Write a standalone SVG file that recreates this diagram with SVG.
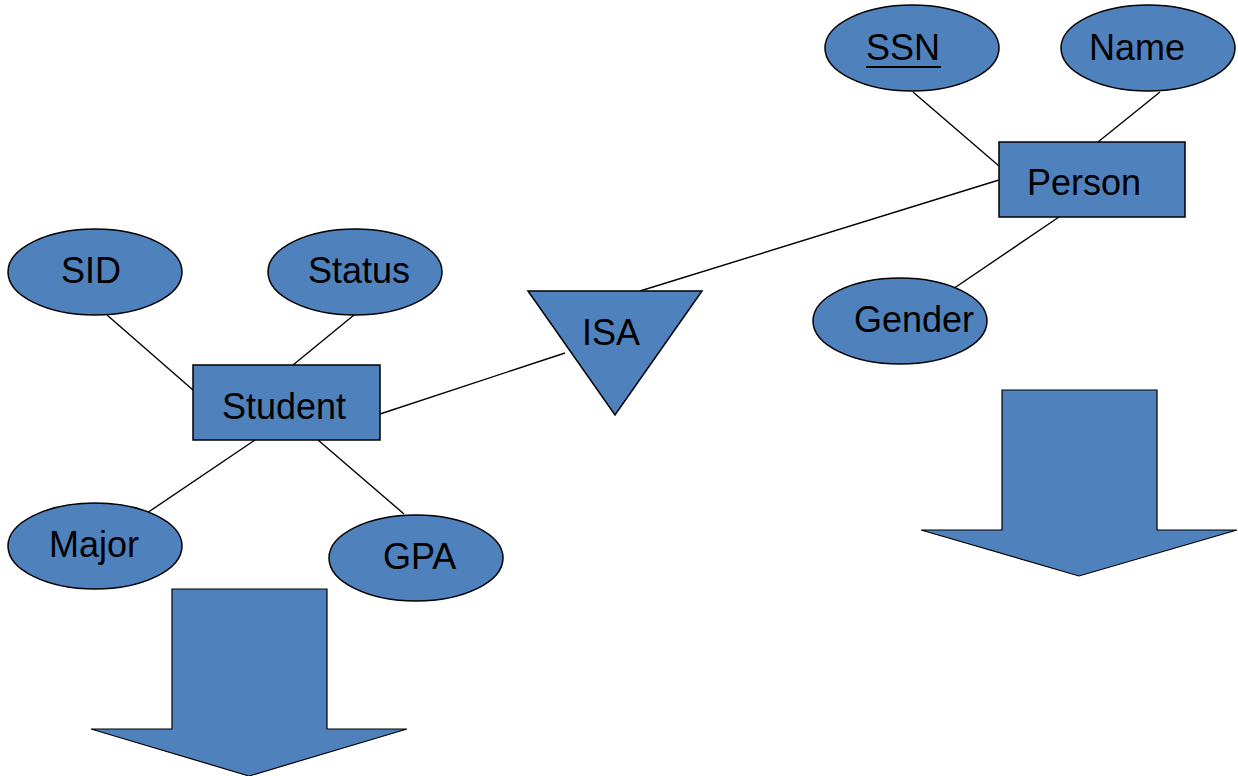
<svg xmlns="http://www.w3.org/2000/svg" width="1238" height="776" viewBox="0 0 1238 776">
<style>
.s{fill:#4F81BD;stroke:#000;stroke-width:1.5}
.a{fill:#4F81BD;stroke:#000;stroke-width:1.2}
.t{font-family:"Liberation Sans",Arial,sans-serif;font-size:36px;fill:#000}
.c line{stroke:#000;stroke-width:1.4}
</style>
<rect width="1238" height="776" fill="#fff"/>
<g class="c" id="connectors">
<line x1="913" y1="92" x2="999" y2="166"/>
<line x1="1160" y1="92" x2="1098" y2="142"/>
<line x1="999" y1="180" x2="640" y2="291"/>
<line x1="1059" y1="217" x2="950" y2="291"/>
<line x1="107" y1="315" x2="193" y2="390"/>
<line x1="354" y1="315" x2="293" y2="365"/>
<line x1="380" y1="414" x2="565" y2="353"/>
<line x1="147" y1="513" x2="255" y2="440"/>
<line x1="404" y1="514" x2="318" y2="440"/>
</g>
<g id="ssn"><ellipse class="s" cx="912" cy="48" rx="87" ry="43"/><text class="t" x="866" y="60">SSN</text><line x1="866" y1="67" x2="941" y2="67" stroke="#000" stroke-width="2"/></g>
<g id="name"><ellipse class="s" cx="1148" cy="48" rx="87" ry="43"/><text class="t" x="1089" y="60">Name</text></g>
<g id="person"><rect class="s" x="999" y="142" width="186" height="75"/><text class="t" x="1027" y="195">Person</text></g>
<g id="gender"><ellipse class="s" cx="900" cy="321" rx="87" ry="43"/><text class="t" x="854" y="332">Gender</text></g>
<g id="sid"><ellipse class="s" cx="95" cy="272" rx="87" ry="43"/><text class="t" x="61" y="283">SID</text></g>
<g id="status"><ellipse class="s" cx="355" cy="272" rx="87" ry="43"/><text class="t" x="308" y="283">Status</text></g>
<g id="student"><rect class="s" x="193" y="365" width="187" height="75"/><text class="t" x="222" y="419">Student</text></g>
<g id="isa"><polygon class="s" points="528,291 702,291 615,415"/><text class="t" x="582" y="345">ISA</text></g>
<g id="major"><ellipse class="s" cx="95" cy="546" rx="87" ry="43"/><text class="t" x="49" y="557">Major</text></g>
<g id="gpa"><ellipse class="s" cx="416" cy="558" rx="87" ry="43"/><text class="t" x="383" y="569">GPA</text></g>
<g id="arrow-left"><polygon class="a" points="172,589 327,589 327,729 407,729 249,776 91,729 172,729"/></g>
<g id="arrow-right"><polygon class="a" points="1002,390 1157,390 1157,530 1237,530 1079,576 921,530 1002,530"/></g>
</svg>
